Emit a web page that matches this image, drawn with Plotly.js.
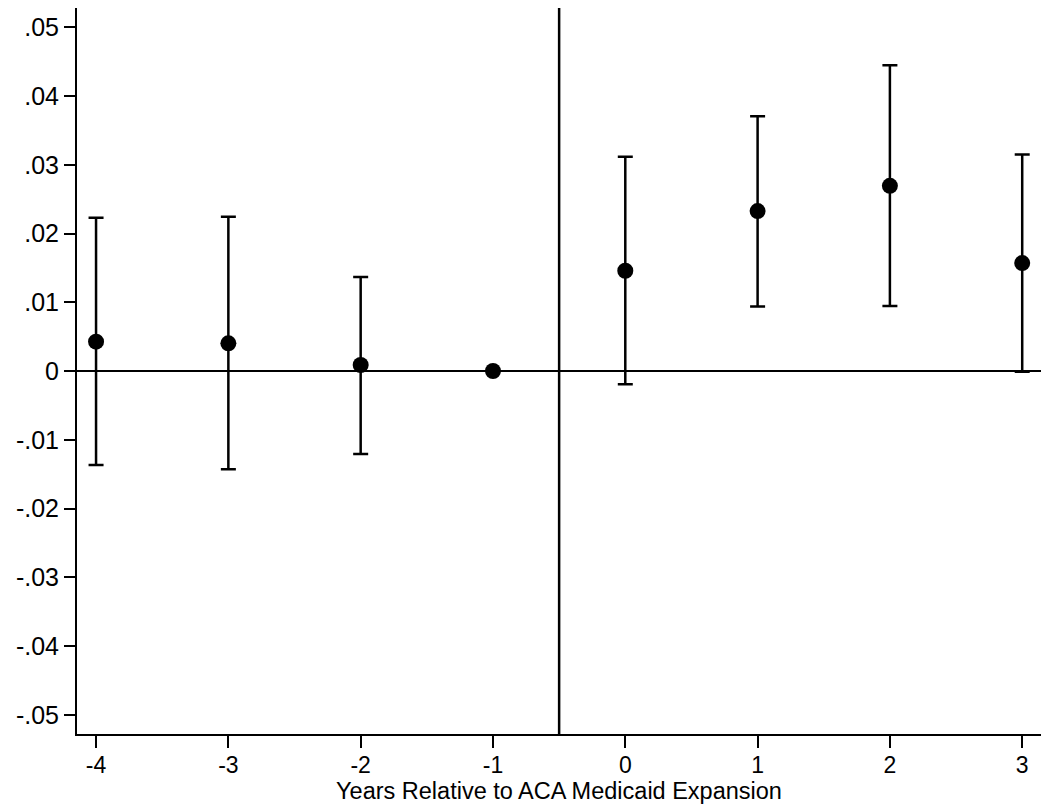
<!DOCTYPE html>
<html>
<head>
<meta charset="utf-8">
<script src="https://cdn.plot.ly/plotly-3.0.1.min.js"></script>
<style>html,body{margin:0;padding:0;background:#fff;}#chart{width:1050px;height:810px;}</style>
</head>
<body>
<div id="chart"></div>
<script>
// Data
const years = [-4, -3, -2, -1, 0, 1, 2, 3];
const estimates = [0.00426, 0.00402, 0.00087, 0.0, 0.01458, 0.02326, 0.02693, 0.0157];
const ciUpper = [0.02228, 0.02243, 0.01366, 0.0, 0.03115, 0.03706, 0.04448, 0.0315];
const ciLower = [-0.01366, -0.01429, -0.01206, 0.0, -0.00194, 0.0094, 0.00945, -0.0001];
const yTickVals = [0.05, 0.04, 0.03, 0.02, 0.01, 0, -0.01, -0.02, -0.03, -0.04, -0.05];
const yTickText = [".05", ".04", ".03", ".02", ".01", "0", "-.01", "-.02", "-.03", "-.04", "-.05"];
const xTickVals = [-4, -3, -2, -1, 0, 1, 2, 3];
const xTickText = ["-4", "-3", "-2", "-1", "0", "1", "2", "3"];
const xTitle = "Years Relative to ACA Medicaid Expansion";
const expansionLine = -0.5;

const errPlus = ciUpper.map((u, i) => u - estimates[i]);
const errMinus = ciLower.map((l, i) => estimates[i] - l);

const trace = {
  x: years,
  y: estimates,
  type: 'scatter',
  mode: 'markers',
  marker: {color: '#000', size: 16},
  error_y: {
    type: 'data',
    symmetric: false,
    array: errPlus,
    arrayminus: errMinus,
    color: '#000',
    thickness: 2.5,
    width: 7.5
  },
  hoverinfo: 'skip',
  showlegend: false
};

const layout = {
  width: 1050,
  height: 810,
  margin: {l: 77, r: 9, t: 8, b: 76},
  paper_bgcolor: '#fff',
  plot_bgcolor: '#fff',
  font: {family: '"Liberation Sans", Arial, Helvetica, sans-serif', color: '#000'},
  xaxis: {
    range: [-4.144, 3.142],
    tickvals: xTickVals,
    ticktext: xTickText,
    ticks: 'outside',
    ticklen: 12,
    tickwidth: 2,
    tickcolor: '#000',
    showline: true,
    linecolor: '#000',
    linewidth: 2,
    showgrid: false,
    zeroline: false,
    ticklabelstandoff: -3,
    tickfont: {size: 23},
    title: {text: xTitle, font: {size: 23.5}, standoff: 0}
  },
  yaxis: {
    range: [-0.0528, 0.0528],
    tickvals: yTickVals,
    ticktext: yTickText,
    ticks: 'outside',
    ticklen: 11,
    tickwidth: 2,
    tickcolor: '#000',
    showline: true,
    linecolor: '#000',
    linewidth: 2,
    showgrid: false,
    zeroline: true,
    zerolinecolor: '#000',
    zerolinewidth: 2.5,
    tickfont: {size: 25}
  },
  shapes: [{
    type: 'line',
    xref: 'x', yref: 'paper',
    x0: expansionLine, x1: expansionLine, y0: 0, y1: 1,
    line: {color: '#000', width: 2.5}
  }]
};

Plotly.newPlot('chart', [trace], layout, {displayModeBar: false, staticPlot: true});
</script>
</body>
</html>
